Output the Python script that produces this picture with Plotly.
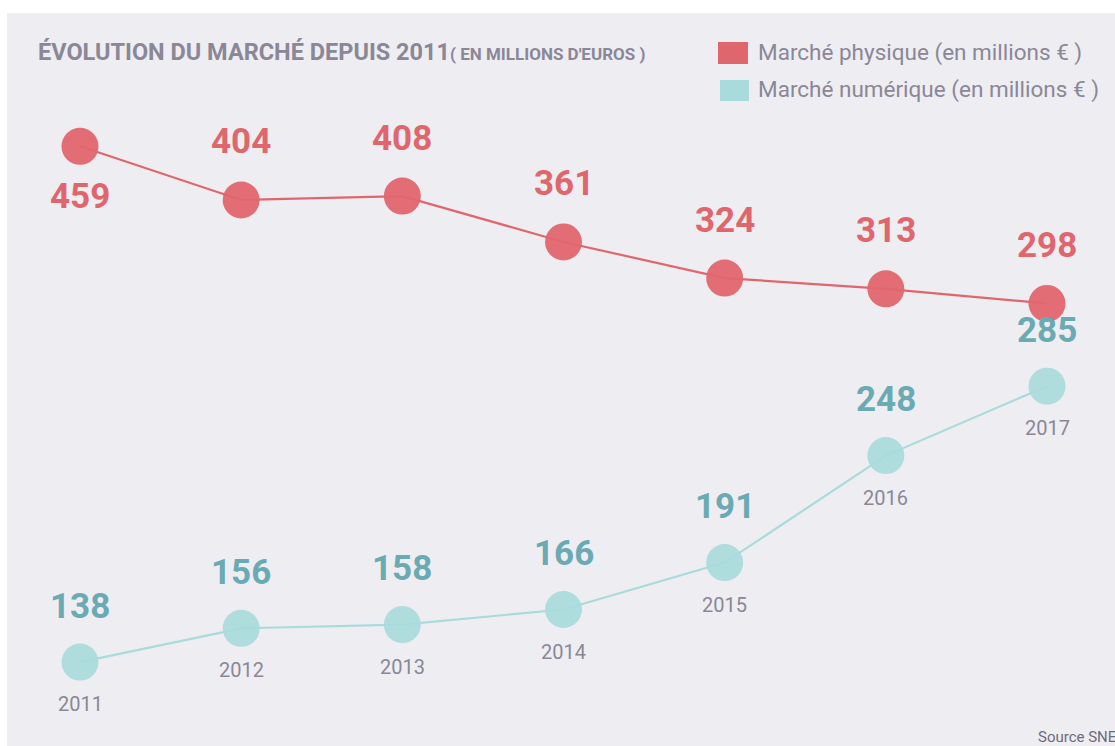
import plotly.graph_objects as go

years = [2011, 2012, 2013, 2014, 2015, 2016, 2017]
physique = [459, 404, 408, 361, 324, 313, 298]
numerique = [138, 156, 158, 166, 191, 248, 285]

title_main = "ÉVOLUTION DU MARCHÉ DEPUIS 2011"
title_sub = "( EN MILLIONS D'EUROS )"
legend_phys = "Marché physique (en millions € )"
legend_num = "Marché numérique (en millions € )"
source = "Source SNE"

RED = "#E0666E"
TEAL = "#A9DBDC"
TEAL_TXT = "#6AAAB3"
GRAY = "#8A8796"
BG = "#EEEDF2"
W, H = 1115, 746
FONT = "Roboto"

fig = go.Figure()
fig.add_trace(go.Scatter(
    x=years, y=physique, mode="lines+markers", yaxis="y",
    line=dict(color=RED, width=2.2),
    marker=dict(size=37, color=RED, opacity=0.95), showlegend=False, hoverinfo="x+y"))
fig.add_trace(go.Scatter(
    x=years, y=numerique, mode="lines+markers", yaxis="y2",
    line=dict(color=TEAL, width=2.2),
    marker=dict(size=37, color=TEAL, opacity=0.92), showlegend=False, hoverinfo="x+y"))

ann = []
for i, (yr, v) in enumerate(zip(years, physique)):
    ann.append(dict(x=yr, y=v, xref="x", yref="y", text=f"<b>{v}</b>", showarrow=False,
                    yshift=(-50 if i == 0 else 58),
                    font=dict(family=FONT, size=35, color=RED)))
for yr, v in zip(years, numerique):
    ann.append(dict(x=yr, y=v, xref="x", yref="y2", text=f"<b>{v}</b>", showarrow=False,
                    yshift=56, font=dict(family=FONT, size=35, color=TEAL_TXT)))
    ann.append(dict(x=yr, y=v, xref="x", yref="y2", text=str(yr), showarrow=False,
                    yshift=-42, font=dict(family=FONT, size=20, color=GRAY)))

# title
ann.append(dict(x=36 / W, y=1 - 52 / H, xref="paper", yref="paper", xanchor="left", yanchor="middle",
                showarrow=False,
                text=f"<b>{title_main}</b><b><span style='font-size:17px'>{title_sub}</span></b>",
                font=dict(family=FONT, size=23.5, color=GRAY)))
# legend
ann.append(dict(x=756 / W, y=1 - 52 / H, xref="paper", yref="paper", xanchor="left", yanchor="middle",
                showarrow=False, text=legend_phys, font=dict(family=FONT, size=22.5, color=GRAY)))
ann.append(dict(x=756 / W, y=1 - 90 / H, xref="paper", yref="paper", xanchor="left", yanchor="middle",
                showarrow=False, text=legend_num, font=dict(family=FONT, size=22.5, color=GRAY)))
# source
ann.append(dict(x=1036 / W, y=1 - 737 / H, xref="paper", yref="paper", xanchor="left", yanchor="middle",
                showarrow=False, text=source, font=dict(family=FONT, size=15, color="#6E6B78")))

shapes = [
    dict(type="rect", xref="paper", yref="paper", x0=7 / W, x1=1.02, y0=-0.02, y1=1 - 13 / H,
         fillcolor=BG, line=dict(width=0), layer="below"),
    dict(type="rect", xref="paper", yref="paper", x0=718 / W, x1=748 / W, y0=1 - 64 / H, y1=1 - 42 / H,
         fillcolor=RED, line=dict(width=0)),
    dict(type="rect", xref="paper", yref="paper", x0=720 / W, x1=749 / W, y0=1 - 101 / H, y1=1 - 80 / H,
         fillcolor=TEAL, line=dict(width=0)),
]

fig.update_layout(
    width=W, height=H, margin=dict(l=0, r=0, t=0, b=0),
    paper_bgcolor="white", plot_bgcolor="rgba(0,0,0,0)",
    xaxis=dict(range=[2010.5036, 2017.4219], visible=False, fixedrange=True),
    yaxis=dict(range=[-155.4, 608.9], visible=False, fixedrange=True),
    yaxis2=dict(range=[93.3, 490.7], visible=False, overlaying="y", fixedrange=True),
    annotations=ann, shapes=shapes, showlegend=False,
)

fig.write_html("out.html", config={"displayModeBar": False},
               post_script="document.body.style.margin='0';")
